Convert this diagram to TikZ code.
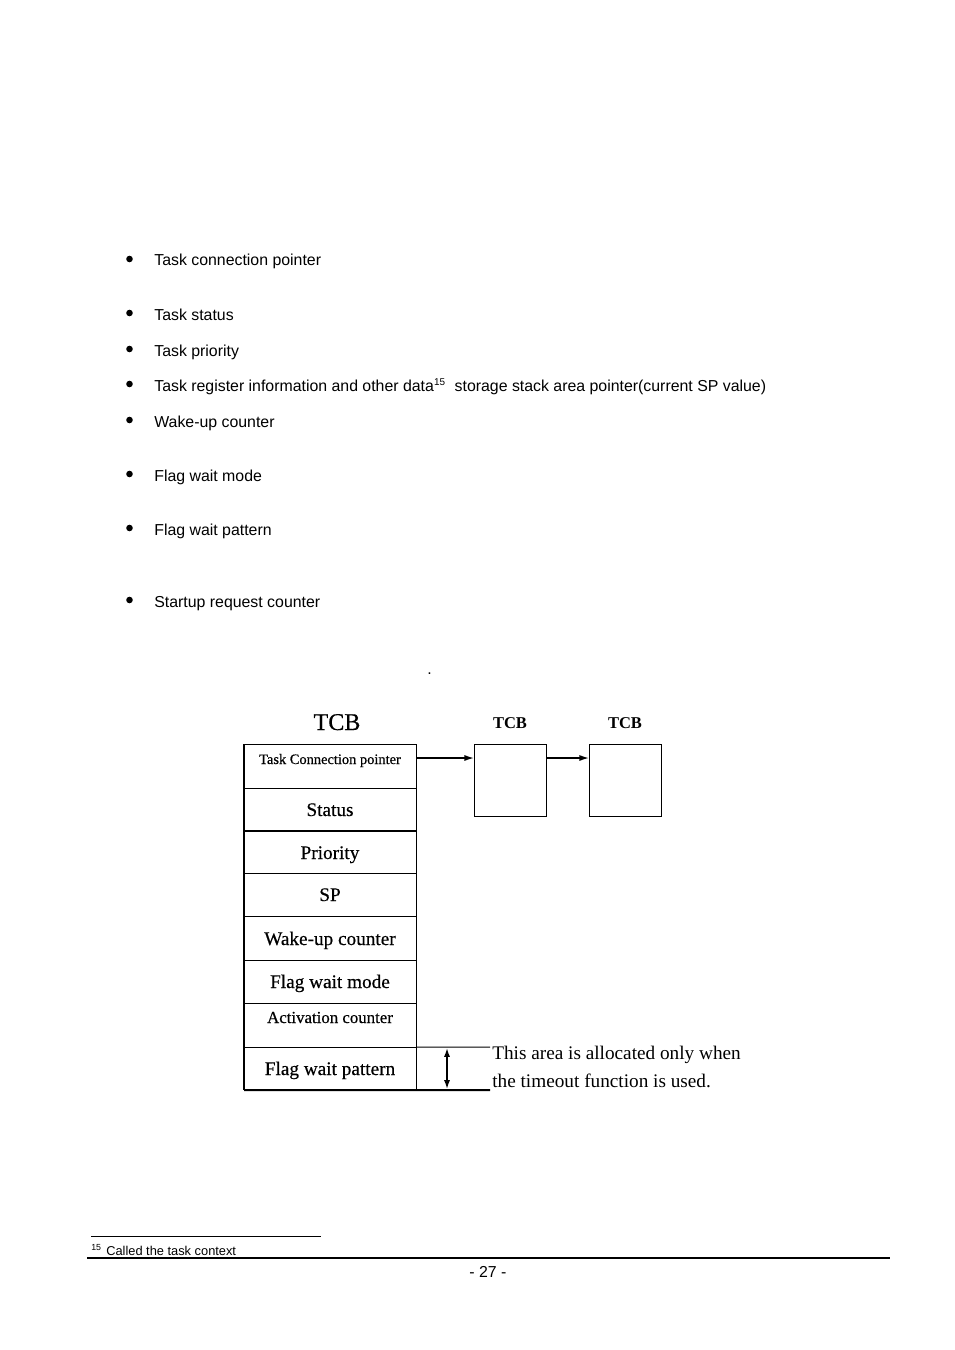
\documentclass[tikz,border=0pt]{standalone}
\usepackage{fontspec}
\setmainfont{Liberation Serif}
\setsansfont{Liberation Sans}
\newfontfamily\cent{Liberation Serif}[FakeBold=0.5]
\usetikzlibrary{arrows.meta}
\begin{document}
\begin{tikzpicture}[x=0.6237pt,y=-0.6237pt,
  thin/.style={line width=0.62pt},
  thick2/.style={line width=1.25pt},
  cell/.style={draw,thin,minimum width=107.28pt,inner sep=0pt,outer sep=0pt},
  tbox/.style={draw,thin,minimum width=44.9pt,minimum height=44.9pt,inner sep=0pt,outer sep=0pt},
  rowtxt/.style={font=\cent\fontsize{12}{14}\selectfont,anchor=base,inner sep=0pt},
  bul/.style={font=\sffamily\fontsize{9.9}{12}\selectfont,anchor=base west,inner sep=0pt},
  arr/.style={-{Latex[length=6pt,width=3.8pt]},line width=0.9pt}]
\useasboundingbox[fill=white] (0,0) rectangle (954,1350);

% bullet list
\foreach \y/\t in {266/Task connection pointer,320/Task status,356/Task priority,427/Wake-up counter,481/Flag wait mode,535/Flag wait pattern,607/Startup request counter}{
  \fill (129.5,\y-7) circle (3.3);
  \node[bul] at (154,\y) {\t};
}
\fill (129.5,384) circle (3.3);
\node[bul] (regtxt) at (154,391) {Task register information and other data\textsuperscript{\fontsize{6.2}{7}\selectfont 15}\ \ storage stack area pointer(current SP value)};

\node[bul] (stray) at (427,674) {.};

% TCB titles
\node[font=\cent\fontsize{15}{17}\selectfont,anchor=base,inner sep=0pt] (tcbmain) at (337,730) {TCB};
\node[font=\bfseries\fontsize{10.3}{12}\selectfont,anchor=base,inner sep=0pt] (tcb2) at (510,728.5) {TCB};
\node[font=\bfseries\fontsize{10.3}{12}\selectfont,anchor=base,inner sep=0pt] (tcb3) at (625,728.5) {TCB};

% table cells
\node[cell,minimum height=27.44pt] (r1) at (330,766) {};
\node[cell,minimum height=26.82pt] (r2) at (330,809.5) {};
\node[cell,minimum height=26.20pt] (r3) at (330,852) {};
\node[cell,minimum height=26.82pt] (r4) at (330,894.5) {};
\node[cell,minimum height=27.44pt] (r5) at (330,938) {};
\node[cell,minimum height=26.82pt] (r6) at (330,981.5) {};
\node[cell,minimum height=27.44pt] (r7) at (330,1025) {};
\node[cell,minimum height=26.82pt] (r8) at (330,1068.5) {};

\node[rowtxt,font=\cent\fontsize{9}{11}\selectfont] (t1) at (330,764) {Task Connection pointer};
\node[rowtxt] (t2) at (330,816) {Status};
\node[rowtxt] (t3) at (330,859) {Priority};
\node[rowtxt] (t4) at (330,901) {SP};
\node[rowtxt] (t5) at (330,945) {Wake-up counter};
\node[rowtxt] (t6) at (330,988) {Flag wait mode};
\node[rowtxt,font=\cent\fontsize{10.5}{12}\selectfont] (t7) at (330,1023) {Activation counter};
\node[rowtxt] (t8) at (330,1075) {Flag wait pattern};

% thick emphasis lines
\draw[thick2] (r1.north west) -- (r8.south west);
\draw[thick2] (r2.south west) -- (r2.south east);
\coordinate (extB) at (490,1090);
\coordinate (extT) at (490,1047);
\draw[thick2] (r8.south west) -- (r8.south east) -- (extB);
\draw[thin] (r8.north east) -- (extT);

% following TCBs
\node[tbox] (b1) at (510,780) {};
\node[tbox] (b2) at (625,780) {};

\coordinate (a1) at ([yshift=-14*0.6237pt]r1.north east);
\draw[arr] (a1) -- (a1 -| b1.west);
\coordinate (a2) at ([yshift=-14*0.6237pt]b1.north east);
\draw[arr] (a2) -- (a2 -| b2.west);

% double arrow
\coordinate (d1) at (447,1048);
\coordinate (d2) at (447,1089);
\draw[{Latex[length=5.5pt,width=3.8pt]}-{Latex[length=5.5pt,width=3.8pt]},line width=1pt] (d1) -- (d2);

\node[font=\fontsize{12}{14}\selectfont,anchor=base west,inner sep=0pt] (note1) at (492,1059) {This area is allocated only when};
\node[font=\fontsize{12}{14}\selectfont,anchor=base west,inner sep=0pt] (note2) at (492,1087) {the timeout function is used.};

% footnote
\draw[line width=0.5pt] (91,1236) -- (321,1236);
\node[font=\sffamily\fontsize{5.5}{6}\selectfont,anchor=base west,inner sep=0pt] (fnum) at (91,1250) {15};
\node[font=\sffamily\fontsize{8}{9}\selectfont,anchor=base west,inner sep=0pt] (ftxt) at (106,1255) {Called the task context};
\draw[line width=1.2pt] (87,1258) -- (890,1258);
\node[font=\sffamily\fontsize{9.9}{12}\selectfont,anchor=base,inner sep=0pt] (pg) at (488,1277) {- 27 -};
\end{tikzpicture}
\end{document}
